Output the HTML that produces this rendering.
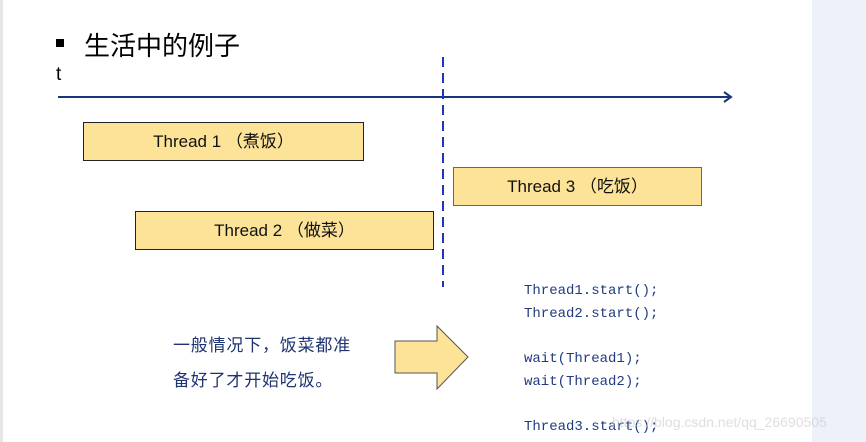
<!DOCTYPE html>
<html><head><meta charset="utf-8"><style>
body{margin:0;width:866px;height:442px;overflow:hidden;background:#fff;position:relative;font-family:"Liberation Sans","Noto Sans CJK SC",sans-serif}
.a{position:absolute;white-space:nowrap}
.box{position:absolute;background:#fce398;border:1px solid #222;box-sizing:border-box;display:flex;align-items:center;justify-content:center;font-size:17px;color:#111}
.code{position:absolute;left:524px;font-family:"Liberation Mono","DejaVu Sans Mono",monospace;font-size:14px;color:#203b80}
.cn{position:absolute;left:173px;font-size:17px;color:#1e3370;letter-spacing:0.8px}
</style></head><body>
<div class="a" style="left:0;top:0;width:3px;height:442px;background:#e6e6e6"></div>
<div class="a" style="left:812px;top:0;width:54px;height:442px;background:#edf1f9"></div>
<div class="a" style="left:56px;top:39px;width:8px;height:8px;background:#000"></div>
<div class="a" style="left:84px;top:26px;font-size:26px;color:#000">生活中的例子</div>
<div class="a" style="left:56px;top:64px;font-size:19px;color:#000">t</div>
<svg class="a" style="left:0;top:0" width="866" height="442">
<line x1="58" y1="97" x2="731" y2="97" stroke="#1c3479" stroke-width="2"/>
<polyline points="724,92 731,97 724,102" fill="none" stroke="#1c3479" stroke-width="2"/>
<line x1="443" y1="57" x2="443" y2="287" stroke="#2233bb" stroke-width="2" stroke-dasharray="10,6"/>
<polygon points="395,341 437,341 437,326 468,357 437,389 437,373 395,373" fill="#fce398" stroke="#555" stroke-width="1"/>
</svg>
<div class="box" style="left:83px;top:122px;width:281px;height:39px;padding-bottom:4px">Thread 1 （煮饭）</div>
<div class="box" style="left:453px;top:167px;width:249px;height:39px;border-color:#666;padding-bottom:4px">Thread 3 （吃饭）</div>
<div class="box" style="left:135px;top:211px;width:299px;height:39px;padding-bottom:4px">Thread 2 （做菜）</div>
<div class="code" style="top:283px">Thread1.start();</div>
<div class="code" style="top:306px">Thread2.start();</div>
<div class="code" style="top:351px">wait(Thread1);</div>
<div class="code" style="top:374px">wait(Thread2);</div>
<div class="code" style="top:419px">Thread3.start();</div>
<div class="cn" style="top:331px">一般情况下，饭菜都准</div>
<div class="cn" style="top:366px">备好了才开始吃饭。</div>
<div class="a" style="left:612px;top:414px;font-size:14px;color:rgba(200,200,200,0.6)">https://blog.csdn.net/qq_26690505</div>
</body></html>
